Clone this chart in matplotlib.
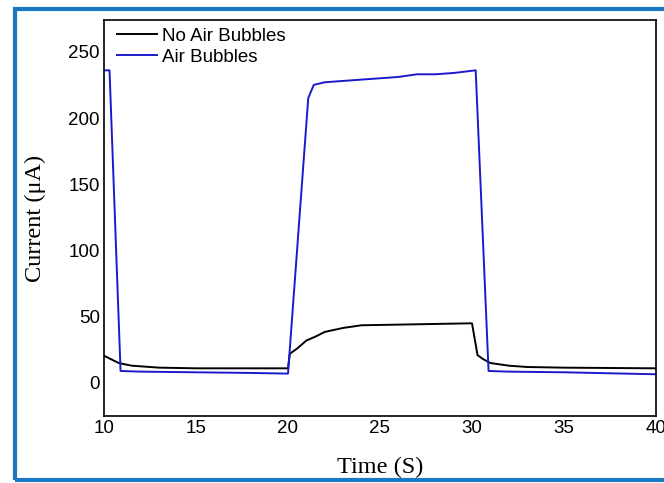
import matplotlib
matplotlib.use("Agg")
import matplotlib.pyplot as plt
from matplotlib.patches import Rectangle

# No Air Bubbles (black)
t_no = [10, 10.8, 11.5, 13, 15, 18, 20, 20.1, 20.5, 21, 21.5, 22, 23, 24, 26, 28, 30, 30.3, 30.6, 31, 32, 33, 35, 40]
i_no = [20.5, 15, 13, 11.5, 11, 11, 11, 22, 26, 32, 35, 38.5, 41.5, 43.5, 44, 44.5, 45, 21, 18, 15, 13, 12, 11.5, 11]

# Air Bubbles (blue)
t_air = [10, 10.3, 10.9, 12, 15, 18, 20, 21.1, 21.4, 22, 24, 26, 27, 28, 29, 30.2, 30.9, 32, 35, 40]
i_air = [236, 236, 9, 8.5, 8, 7.5, 7, 215, 225, 227, 229, 231, 233, 233, 234, 236, 9, 8.5, 8, 6.5]

fig = plt.figure(figsize=(6.64, 4.83), dpi=100)
ax = fig.add_axes([104/664, 1-416/483, (656-104)/664, (416-20)/483])

ax.plot(t_no, i_no, color="black", lw=1.4, label="No Air Bubbles")
ax.plot(t_air, i_air, color="#1a1acc", lw=1.4, label="Air Bubbles")

ax.set_xlim(10, 40)
ax.set_ylim(-25, 274)
ax.set_xticks([10, 15, 20, 25, 30, 35, 40])
ax.set_yticks([0, 50, 100, 150, 200, 250])
ax.tick_params(length=0, labelsize=13.5, pad=3)
for lab in ax.get_xticklabels() + ax.get_yticklabels():
    lab.set_family("Liberation Sans")
for s in ax.spines.values():
    s.set_linewidth(1.2)

ax.set_xlabel("Time (S)", family="Liberation Serif", fontsize=17.5, labelpad=14)
ax.set_ylabel("Current (\u03bcA)", family="Liberation Serif", fontsize=17.5, labelpad=16)

leg = ax.legend(loc="upper left", frameon=False, prop={"family": "Liberation Sans", "size": 13.5},
                handlelength=2.15, handletextpad=0.27, borderaxespad=0.0, labelspacing=0.2,
                bbox_to_anchor=(0.01, 1.0))

fig.patches.append(Rectangle((15/664, 1-480/483), 1.2, (480-9)/483, transform=fig.transFigure,
                             fill=False, edgecolor="#1a78c2", lw=3, clip_on=False))

fig.savefig("out.png", dpi=100)
